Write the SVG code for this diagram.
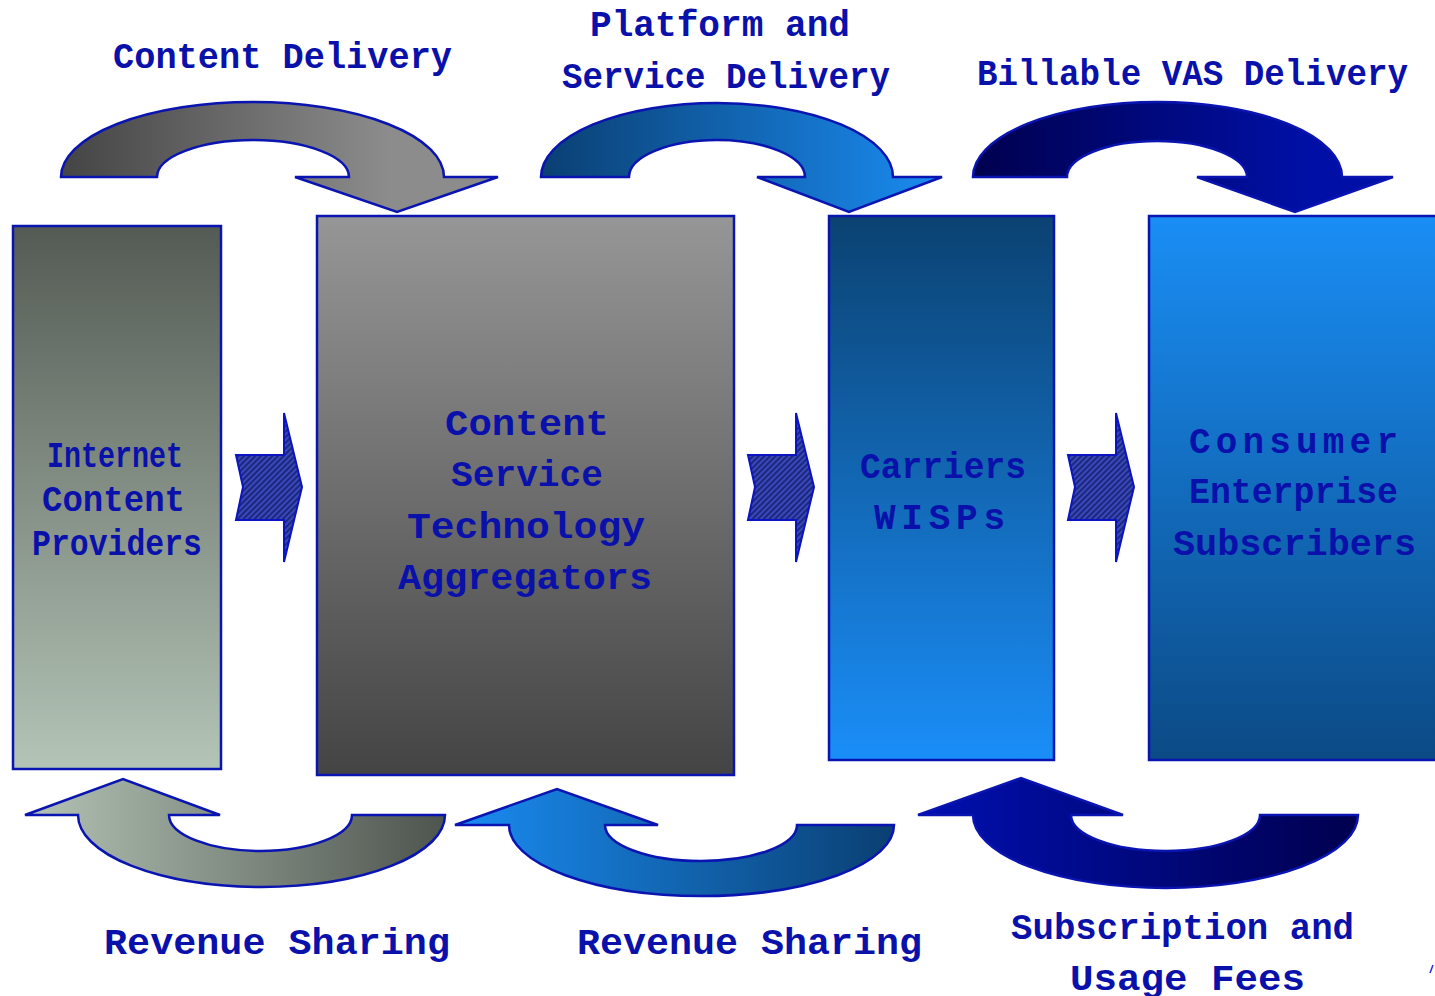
<svg xmlns="http://www.w3.org/2000/svg" width="1435" height="996" viewBox="0 0 1435 996">
<defs>
<style>
.lbl{font-family:"Liberation Mono","Courier New",monospace;font-weight:bold;fill:#0a10aa;font-size:36px}
.box{stroke:#0a14b0;stroke-width:2.5}
.arw{stroke:#0a14b0;stroke-width:2.5;stroke-linejoin:miter}
.chev{fill:url(#hatch);stroke:#0a14c0;stroke-width:2}
</style>
<linearGradient id="gT1" x1="0" y1="0" x2="1" y2="0"><stop offset="0" stop-color="#444444"/><stop offset="0.75" stop-color="#8c8c8c"/><stop offset="1" stop-color="#8c8c8c"/></linearGradient>
<linearGradient id="gT2" x1="0" y1="0" x2="1" y2="0"><stop offset="0" stop-color="#0a3f72"/><stop offset="1" stop-color="#1a8cf2"/></linearGradient>
<linearGradient id="gT3" x1="0" y1="0" x2="1" y2="0"><stop offset="0" stop-color="#00004e"/><stop offset="0.8" stop-color="#0010a6"/><stop offset="1" stop-color="#0010a8"/></linearGradient>
<linearGradient id="gB1" x1="0" y1="0" x2="1" y2="0"><stop offset="0" stop-color="#b4c4b6"/><stop offset="1" stop-color="#4e544e"/></linearGradient>
<linearGradient id="gB2" x1="0" y1="0" x2="1" y2="0"><stop offset="0" stop-color="#1a8cf2"/><stop offset="1" stop-color="#0a3f72"/></linearGradient>
<linearGradient id="gB3" x1="0" y1="0" x2="1" y2="0"><stop offset="0" stop-color="#0010b0"/><stop offset="1" stop-color="#00004e"/></linearGradient>
<linearGradient id="gN1" x1="0" y1="0" x2="0" y2="1"><stop offset="0" stop-color="#545b54"/><stop offset="1" stop-color="#b4c4b7"/></linearGradient>
<linearGradient id="gN2" x1="0" y1="0" x2="0" y2="1"><stop offset="0" stop-color="#969696"/><stop offset="1" stop-color="#444444"/></linearGradient>
<linearGradient id="gN3" x1="0" y1="0" x2="0" y2="1"><stop offset="0" stop-color="#0b4272"/><stop offset="1" stop-color="#1a8ef8"/></linearGradient>
<linearGradient id="gN4" x1="0" y1="0" x2="0" y2="1"><stop offset="0" stop-color="#1a8ef5"/><stop offset="1" stop-color="#0b4a85"/></linearGradient>
<pattern id="hatch" width="4" height="4" patternUnits="userSpaceOnUse" patternTransform="rotate(45)">
<rect width="4" height="4" fill="#1c2880"/>
<rect width="2" height="4" fill="#3a48b8"/>
</pattern>
</defs>

<g id="connectors">
<path class="arw" fill="url(#gT1)" d="M61,177 A191.5,75 0 0 1 444,177 L498,177 L397,212 L295,177 L349,177 A96,37 0 0 0 157,177 Z"/>
<path class="arw" fill="url(#gT2)" d="M541,177 A176,74 0 0 1 893,177 L942,177 L849,212 L757,177 L805,177 A88,37 0 0 0 629,177 Z"/>
<path class="arw" fill="url(#gT3)" d="M973,177 A184.5,75 0 0 1 1342,177 L1393,177 L1295,212 L1197,177 L1247,177 A90,36 0 0 0 1067,177 Z"/>
<path class="arw" fill="url(#gB1)" d="M445,815 A183.5,72 0 0 1 78,815 L25,815 L123,779 L220,815 L169,815 A91.5,36 0 0 0 352,815 Z"/>
<path class="arw" fill="url(#gB2)" d="M894,825 A192.5,71 0 0 1 509,825 L455,825 L557,789 L658,825 L605,825 A96,36 0 0 0 797,825 Z"/>
<path class="arw" fill="url(#gB3)" d="M1358,815 A192.5,73 0 0 1 973,815 L918,815 L1021,778 L1123,815 L1071,815 A94.5,36 0 0 0 1260,815 Z"/>
<path class="chev" d="M236,455 L284,455 L284,413 L302,487 L284,562 L284,520 L236,520 L243,487 Z"/>
<path class="chev" d="M748,455 L796,455 L796,413 L814,487 L796,562 L796,520 L748,520 L755,487 Z"/>
<path class="chev" d="M1068,455 L1116,455 L1116,413 L1134,487 L1116,562 L1116,520 L1068,520 L1075,487 Z"/>
<line x1="1430" y1="973" x2="1433" y2="965" stroke="#2a30e0" stroke-width="1.5"/>
</g>

<g id="node-providers">
<rect class="box" x="13" y="226" width="208" height="543" fill="url(#gN1)"/>
<text class="lbl" font-size="32" x="47" y="467" textLength="136" lengthAdjust="spacingAndGlyphs">Internet</text>
<text class="lbl" font-size="32" x="42" y="511" textLength="143" lengthAdjust="spacingAndGlyphs">Content</text>
<text class="lbl" font-size="32" x="32" y="555" textLength="170" lengthAdjust="spacingAndGlyphs">Providers</text>
</g>

<g id="node-aggregators">
<rect class="box" x="317" y="216" width="417" height="559" fill="url(#gN2)"/>
<text class="lbl" font-size="38" x="445" y="435" textLength="164" lengthAdjust="spacingAndGlyphs">Content</text>
<text class="lbl" font-size="38" x="451" y="486" textLength="152" lengthAdjust="spacingAndGlyphs">Service</text>
<text class="lbl" font-size="38" x="407" y="538" textLength="238" lengthAdjust="spacingAndGlyphs">Technology</text>
<text class="lbl" font-size="38" x="398" y="589" textLength="254" lengthAdjust="spacingAndGlyphs">Aggregators</text>
</g>

<g id="node-carriers">
<rect class="box" x="829" y="216" width="225" height="544" fill="url(#gN3)"/>
<text class="lbl" font-size="37" x="860" y="478" textLength="166" lengthAdjust="spacingAndGlyphs">Carriers</text>
<text class="lbl" font-size="37" x="874" y="529" textLength="131" lengthAdjust="spacing">WISPs</text>
</g>

<g id="node-subscribers">
<rect class="box" x="1149" y="216" width="290" height="544" fill="url(#gN4)"/>
<text class="lbl" font-size="38" x="1189" y="453" textLength="209" lengthAdjust="spacing">Consumer</text>
<text class="lbl" font-size="38" x="1189" y="503" textLength="209" lengthAdjust="spacingAndGlyphs">Enterprise</text>
<text class="lbl" font-size="38" x="1173" y="555" textLength="243" lengthAdjust="spacingAndGlyphs">Subscribers</text>
</g>

<g id="labels">
<text class="lbl" font-size="36" x="113" y="68" textLength="339" lengthAdjust="spacingAndGlyphs">Content Delivery</text>
<text class="lbl" font-size="36" x="590" y="36" textLength="260" lengthAdjust="spacingAndGlyphs">Platform and</text>
<text class="lbl" font-size="36" x="562" y="88" textLength="328" lengthAdjust="spacingAndGlyphs">Service Delivery</text>
<text class="lbl" font-size="36" x="977" y="85" textLength="431" lengthAdjust="spacingAndGlyphs">Billable VAS Delivery</text>
<text class="lbl" font-size="37" x="104" y="954" textLength="346" lengthAdjust="spacingAndGlyphs">Revenue Sharing</text>
<text class="lbl" font-size="37" x="577" y="954" textLength="345" lengthAdjust="spacingAndGlyphs">Revenue Sharing</text>
<text class="lbl" font-size="37" x="1011" y="939" textLength="343" lengthAdjust="spacingAndGlyphs">Subscription and</text>
<text class="lbl" font-size="37" x="1070" y="990" textLength="235" lengthAdjust="spacingAndGlyphs">Usage Fees</text>
</g>
</svg>
